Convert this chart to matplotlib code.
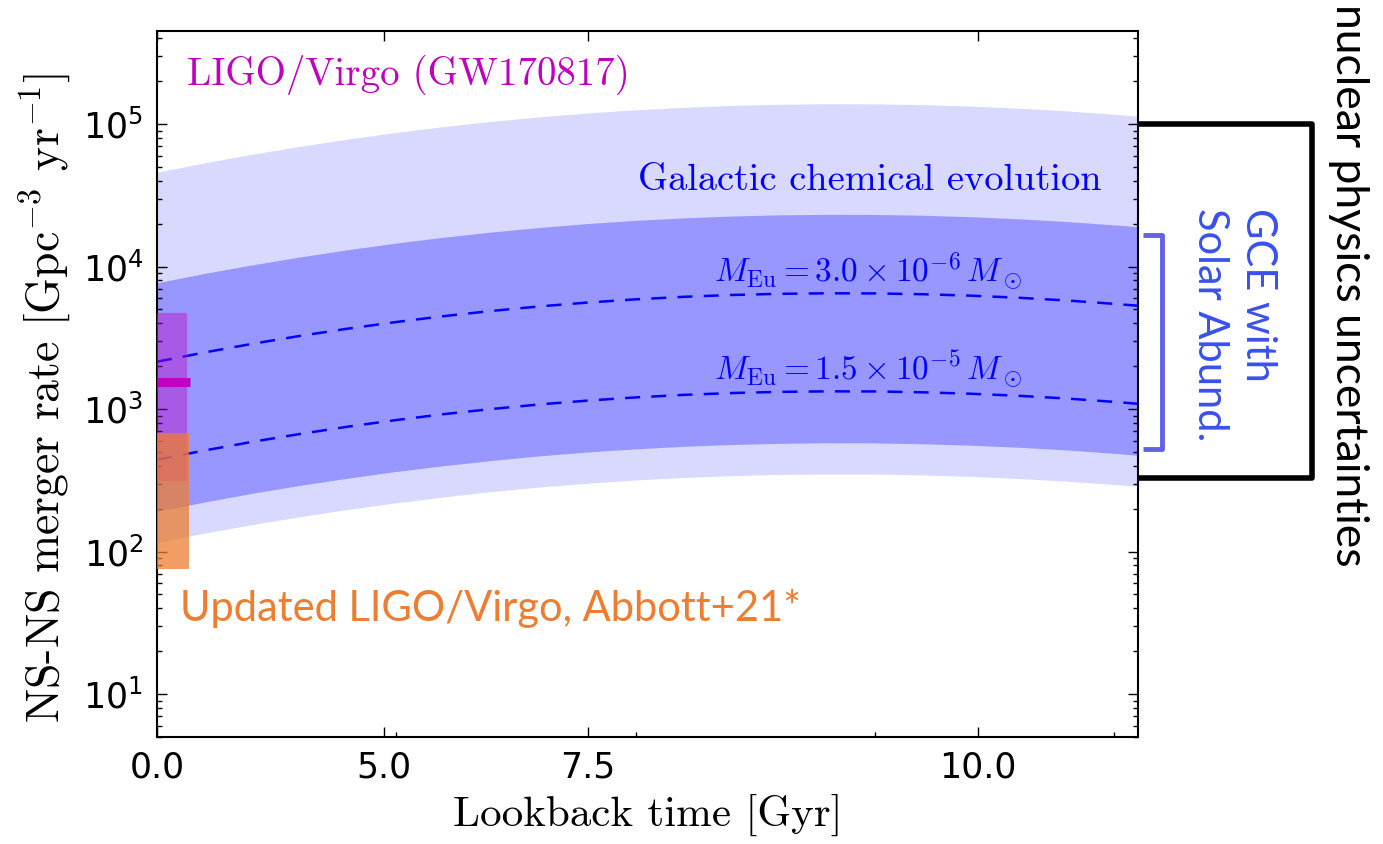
import matplotlib.pyplot as plt
from matplotlib.lines import Line2D
from matplotlib.ticker import FixedLocator, FixedFormatter

# redshift grid on which the rate curves are tabulated
z = [0.0, 0.1, 0.2, 0.3, 0.4, 0.5, 0.6, 0.7, 0.8, 0.9, 1.0, 1.1, 1.2, 1.3,
     1.4, 1.5, 1.6, 1.7, 1.8, 1.9, 2.0, 2.05]

# outer band: full nuclear physics uncertainty range [Gpc^-3 yr^-1]
nuc_hi = [46000, 53500, 61500, 69900, 78600, 87400, 96100, 104600, 112500,
          119700, 126000, 131200, 135200, 137800, 139000, 138700, 136900,
          133800, 129400, 123800, 117200, 113600]
nuc_lo = [116, 135, 155, 176, 198, 220, 242, 264, 284, 302, 318, 331, 341,
          348, 350, 350, 345, 337, 326, 312, 296, 287]

# inner band: GCE constrained by solar abundances
gce_hi = [7700, 8960, 10300, 11700, 13160, 14630, 16090, 17500, 18830, 20040,
          21100, 21970, 22630, 23070, 23260, 23220, 22920, 22390, 21650,
          20720, 19620, 19020]
gce_lo = [192, 223, 257, 292, 328, 365, 401, 436, 470, 500, 526, 548, 564,
          575, 580, 579, 571, 558, 540, 517, 489, 474]

# rates for a fixed europium mass ejected per merger
eu_3e6 = [2150, 2500, 2875, 3268, 3674, 4085, 4494, 4887, 5259, 5594, 5891,
          6134, 6319, 6441, 6495, 6482, 6398, 6252, 6046, 5786, 5478, 5311]
eu_15e5 = [441, 513, 590, 670, 754, 838, 922, 1002, 1079, 1147, 1208, 1258,
           1296, 1321, 1332, 1330, 1312, 1282, 1240, 1187, 1124, 1089]

# local LIGO/Virgo rates
gw_rate, gw_lo, gw_hi = 1540, 320, 4740
upd_lo, upd_hi = 75, 680
gw_zmax, upd_zmax, gw_line_zmax = 0.061, 0.067, 0.07

# lookback-time labels placed at the matching redshifts
t_tick_z = [0.0, 0.475, 0.9, 1.715]
t_tick_labels = ["0.0", "5.0", "7.5", "10.0"]
z_minor = [0.5, 1.0, 1.5, 2.0]

CM = dict(family="cmr10", math_fontfamily="cm")
PPT = ["Lato", "DejaVu Sans"]

fig = plt.figure(figsize=(13.83, 8.44), dpi=100)
ax = fig.add_axes([157 / 1383, 107 / 844, 981 / 1383, 706 / 844])

ax.fill_between(z, nuc_lo, nuc_hi, color="b", alpha=0.15, lw=0)
ax.fill_between(z, gce_lo, gce_hi, color="b", alpha=0.3, lw=0)
ax.plot(z, eu_3e6, color="b", ls=(0, (6, 4.5)), lw=1.8)
ax.plot(z, eu_15e5, color="b", ls=(0, (6, 4.5)), lw=1.8)

# GW170817 range and median
ax.fill_between([0, gw_zmax], gw_lo, gw_hi, facecolor="m", alpha=0.4,
                edgecolor="#c030c0", lw=1.0, zorder=3)
ax.plot([0, gw_line_zmax], [gw_rate, gw_rate], color="m", lw=6.5,
        solid_capstyle="butt", zorder=4, clip_on=False)
# updated range, drawn over the frame
ax.fill_between([0, upd_zmax], upd_lo, upd_hi, color="#ed7d31", alpha=0.75,
                lw=0, zorder=6, clip_on=False)

ax.set_yscale("log")
ax.set_xlim(0, 2.05)
ax.set_ylim(5, 4.5e5)

ax.xaxis.set_major_locator(FixedLocator(t_tick_z))
ax.xaxis.set_major_formatter(FixedFormatter(t_tick_labels))
ax.xaxis.set_minor_locator(FixedLocator(z_minor))

ax.tick_params(which="both", direction="in", right=True, labelsize=25)
ax.tick_params(axis="x", which="major", top=True, pad=10)
ax.tick_params(axis="x", which="minor", top=False)
ax.tick_params(axis="y", pad=10)
ax.tick_params(which="major", length=7, width=1.0)
ax.tick_params(which="minor", length=3.6, width=1.0)
for sp in ax.spines.values():
    sp.set_linewidth(1.5)

ax.set_xlabel("Lookback time [Gyr]", fontsize=31, va="center", **CM)
ax.xaxis.set_label_coords(0.5, -0.11)
ax.set_ylabel(r"NS-NS merger rate [Gpc$^{-3}$ yr$^{-1}$]", fontsize=33,
              va="center", **CM)
ax.yaxis.set_label_coords(-0.114, 0.48)

ax.text(0.063, 1.87e5, "LIGO/Virgo (GW170817)", color="m", fontsize=28, **CM)
ax.text(1.005, 3.43e4, "Galactic chemical evolution", color="b", fontsize=27.7, **CM)
ax.text(1.165, 7.9e3, r"$M_{\rm Eu} = 3.0 \times 10^{-6}\,M_\odot$", color="b",
        fontsize=24, math_fontfamily="cm")
ax.text(1.165, 1.6e3, r"$M_{\rm Eu} = 1.5 \times 10^{-5}\,M_\odot$", color="b",
        fontsize=24, math_fontfamily="cm")
ax.text(0.048, 32.6, "Updated LIGO/Virgo, Abbott+21*", color="#ed7d31",
        fontsize=30, family=PPT)

# brackets to the right of the axes
yx = ax.get_yaxis_transform()
ax.add_artist(Line2D([1.0, 1.1774, 1.1774, 1.0], [1.0e5, 1.0e5, 330, 330],
                     transform=yx, color="k", lw=4, clip_on=False,
                     solid_joinstyle="round", solid_capstyle="butt"))
ax.add_artist(Line2D([1.005, 1.0245, 1.0245, 1.005], [1.66e4, 1.66e4, 525, 525],
                     transform=yx, color="#6262e8", lw=3.5, clip_on=False,
                     solid_joinstyle="round", solid_capstyle="butt"))

fig.text(1349 / 1383, 1 - 4 / 844, "nuclear physics uncertainties", rotation=-90,
         ha="center", va="top", fontsize=32, family=PPT)
fig.text(1258 / 1383, 1 - 208 / 844, "GCE with", rotation=-90, ha="center",
         va="top", fontsize=30, color="#3a50ee", family=PPT)
fig.text(1210 / 1383, 1 - 208 / 844, "Solar Abund.", rotation=-90, ha="center",
         va="top", fontsize=30, color="#3a50ee", family=PPT)

fig.savefig("out.png", dpi=100)
